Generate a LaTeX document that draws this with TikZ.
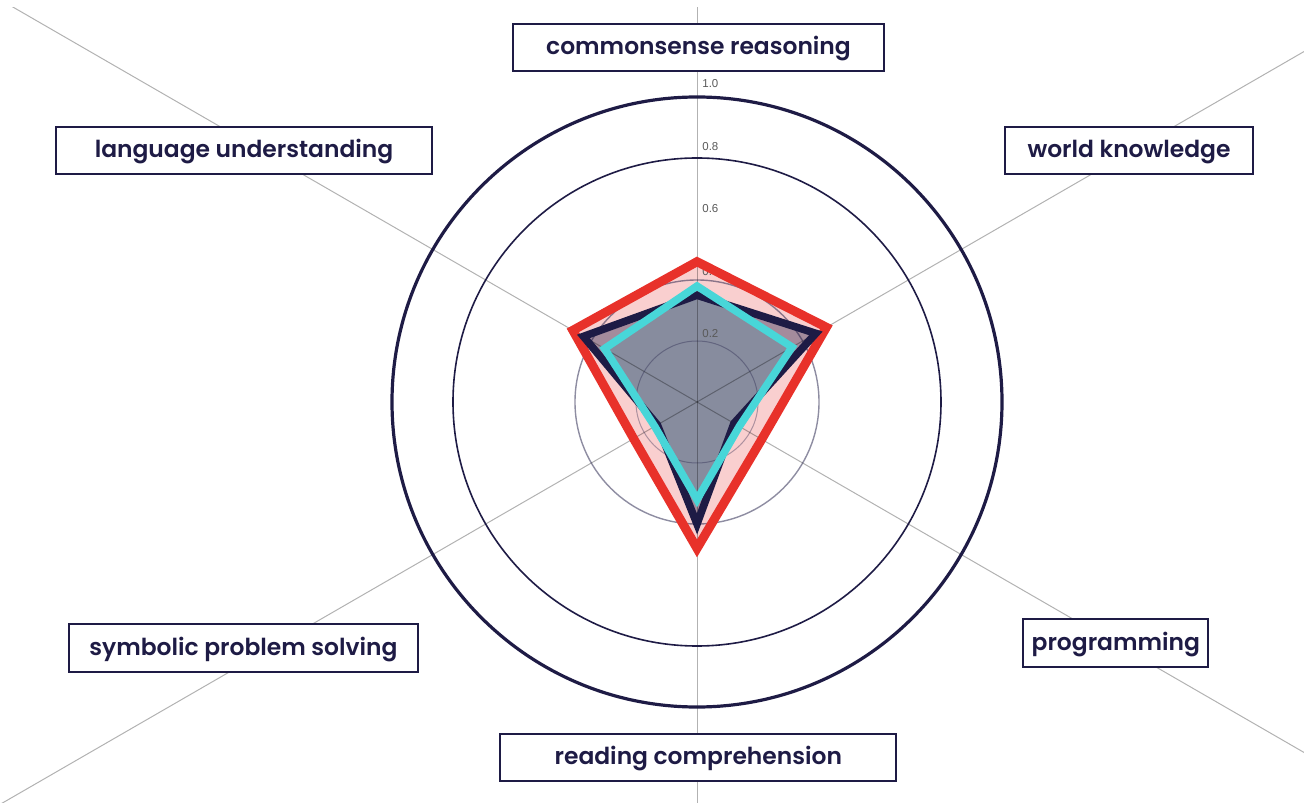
\documentclass[tikz,border=0pt]{standalone}
\usepackage{fontspec}
\setmainfont{Poppins}
\newfontfamily\labelfont{Poppins SemiBold}
\newfontfamily\tickfont{Liberation Sans}
\usetikzlibrary{positioning}
\definecolor{navy}{HTML}{1E1B45}
\definecolor{redline}{HTML}{E8312A}
\definecolor{cyanline}{HTML}{48D6D8}
\definecolor{pinkfill}{HTML}{F9CFCF}
\definecolor{mauvefill}{HTML}{A48B9C}
\definecolor{grayfill}{HTML}{878C9E}
% one web of six scores, radius 1.0 = 305px
\newcommand{\web}[7]{\draw[#1] (90:{#2*305}) -- (30:{#3*305}) -- (-30:{#4*305}) -- (-90:{#5*305}) -- (210:{#6*305}) -- (150:{#7*305}) -- cycle;}

\begin{document}
\begin{tikzpicture}[x=0.5pt,y=0.5pt,line join=miter,
    axlabel/.style={draw=navy,line width=1pt,fill=white,text=navy,font=\labelfont\fontsize{11.7}{14}\selectfont,
      text height=0.74em,text depth=0pt,minimum height=23.8pt,inner xsep=0pt,minimum width=#1},
    ticklabel/.style={anchor=west,inner sep=0pt,text=black!65,font=\tickfont\fontsize{5.75}{6}\selectfont}]
  \useasboundingbox (-697,-400) rectangle (607,402);
  % fills
  \web{fill=pinkfill}{0.46}{0.49}{0.245}{0.48}{0.24}{0.47}
  \web{fill=mauvefill}{0.35}{0.45}{0.14}{0.40}{0.15}{0.43}
  \web{fill=grayfill}{0.38}{0.36}{0.16}{0.32}{0.16}{0.35}
  % grid
  \begin{scope}
    \clip (-697,-400) rectangle (607,394);
    \foreach \a in {90,30,-30,-90,210,150}
      \draw[black,opacity=0.3,line width=0.5pt] (0,0) -- (\a:900);
  \end{scope}
  \draw[navy,opacity=0.35,line width=0.5pt] (0,0) circle (61);
  \draw[navy,opacity=0.5,line width=0.7pt] (0,0) circle (122);
  \draw[navy,line width=0.8pt] (0,0) circle (244);
  \draw[navy,line width=1.6pt] (0,0) circle (305);
  \foreach \v [count=\i] in {0.2,0.4,0.6,0.8,1.0}
    \node[ticklabel] (tick\i) at (5,{318-62.5*(5-\i)}) {\v};
  % outlines
  \web{draw=redline,line width=4.5pt}{0.46}{0.49}{0.245}{0.48}{0.24}{0.47}
  \web{draw=navy,line width=3.8pt}{0.35}{0.45}{0.14}{0.40}{0.15}{0.43}
  \web{draw=cyanline,line width=3.8pt}{0.38}{0.36}{0.16}{0.32}{0.16}{0.35}
  % axis labels
  \node[axlabel=185.5pt] (cs) at (1.5,354.5) {commonsense reasoning};
  \node[axlabel=124pt] (wk) at (432,251.5) {world knowledge};
  \node[axlabel=92.5pt] (prog) at (418.8,-241) {programming};
  \node[axlabel=198pt] (rc) at (1.3,-355.5) {reading comprehension};
  \node[axlabel=174.5pt] (sps) at (-453.5,-246) {symbolic problem solving};
  \node[axlabel=188pt] (lu) at (-453,251.5) {language understanding};
\end{tikzpicture}
\end{document}
